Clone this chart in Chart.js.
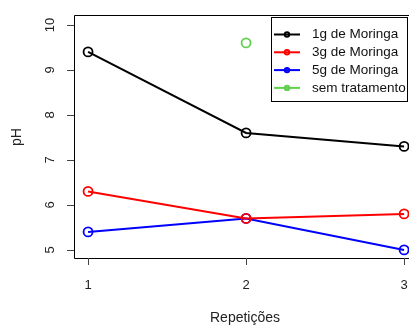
<!DOCTYPE html>
<html><head><meta charset="utf-8">
<script src="https://cdn.jsdelivr.net/npm/chart.js@4"></script>
<style>html,body{margin:0;padding:0;background:#fff;}#wrap{width:409px;height:325px;}</style>
</head><body><div id="wrap"><canvas id="c" width="409" height="325"></canvas></div>
<script>
const repeticoes = [1, 2, 3];
const serie1g = [9.4, 7.6, 7.3];
const serie3g = [6.3, 5.7, 5.8];
const serie5g = [5.4, 5.7, 5.0];
const semTratamento = [null, 9.6, null];
const yTicks = [5, 6, 7, 8, 9, 10];
const xTicks = [1, 2, 3];
const seriesNames = ["1g de Moringa", "3g de Moringa", "5g de Moringa", "sem tratamento"];
const colors = ["#000000", "#FF0000", "#0000FF", "#61D04F"];

const FONT = '13px "Liberation Sans", Arial, sans-serif';
const TITLE_FONT = '14px "Liberation Sans", Arial, sans-serif';
const LEG_FONT = '13.5px "Liberation Sans", Arial, sans-serif';
const toPts = arr => arr.map((v, i) => ({x: repeticoes[i], y: v}));

const rPlot = {
  id: 'rPlot',
  afterDraw(chart) {
    const ctx = chart.ctx, a = chart.chartArea;
    const xs = chart.scales.x, ys = chart.scales.y;
    ctx.save();
    ctx.strokeStyle = '#000'; ctx.lineWidth = 1;
    ctx.beginPath();
    ctx.moveTo(a.right + 5, a.top + 0.5); ctx.lineTo(a.left + 0.5, a.top + 0.5);
    ctx.lineTo(a.left + 0.5, a.bottom + 0.5); ctx.lineTo(a.right + 5, a.bottom + 0.5);
    ctx.stroke();
    ctx.strokeStyle = '#444';
    ctx.fillStyle = '#222';
    ctx.font = FONT;
    ctx.beginPath();
    yTicks.forEach(t => { const y = Math.round(ys.getPixelForValue(t)) + 0.5; ctx.moveTo(a.left, y); ctx.lineTo(a.left - 7, y); });
    ctx.stroke();
    yTicks.forEach(t => {
      const y = ys.getPixelForValue(t);
      ctx.save(); ctx.translate(a.left - 24, y); ctx.rotate(-Math.PI / 2);
      ctx.textAlign = 'center'; ctx.textBaseline = 'middle';
      ctx.fillText(String(t), 0, 0); ctx.restore();
    });
    ctx.beginPath();
    xTicks.forEach(t => { const x = Math.round(xs.getPixelForValue(t)) + 0.5; ctx.moveTo(x, a.bottom); ctx.lineTo(x, a.bottom + 7); });
    ctx.stroke();
    ctx.textAlign = 'center'; ctx.textBaseline = 'middle';
    xTicks.forEach(t => ctx.fillText(String(t), xs.getPixelForValue(t), a.bottom + 27));
    ctx.font = TITLE_FONT;
    ctx.fillText('Repetições', 245, 318);
    ctx.save(); ctx.translate(17, 137); ctx.rotate(-Math.PI / 2); ctx.fillText('pH', 0, 0); ctx.restore();
    // legend
    ctx.font = LEG_FONT;
    ctx.strokeStyle = '#000'; ctx.lineWidth = 1;
    ctx.strokeRect(271.5, 17.5, 136, 84);
    ctx.textAlign = 'left';
    seriesNames.forEach((n, i) => {
      const y = 34.5 + i * 17.8;
      ctx.strokeStyle = colors[i]; ctx.lineWidth = 2;
      ctx.beginPath(); ctx.moveTo(274, y); ctx.lineTo(300, y); ctx.stroke();
      ctx.beginPath(); ctx.arc(287, y, 2.2, 0, Math.PI * 2); ctx.stroke();
      ctx.fillStyle = '#111';
      ctx.fillText(n, 312, y);
    });
    ctx.restore();
  }
};

new Chart(document.getElementById('c'), {
  type: 'line',
  data: {
    datasets: [
      {label: seriesNames[0], data: toPts(serie1g), borderColor: colors[0]},
      {label: seriesNames[1], data: toPts(serie3g), borderColor: colors[1]},
      {label: seriesNames[2], data: toPts(serie5g), borderColor: colors[2]},
      {label: seriesNames[3], data: toPts(semTratamento), borderColor: colors[3], showLine: false}
    ].map(d => Object.assign({
      borderWidth: 2, pointRadius: 4.5, pointBorderWidth: 1.8, pointBackgroundColor: 'rgba(0,0,0,0)',
      pointBorderColor: d.borderColor, tension: 0, clip: false, spanGaps: false
    }, d))
  },
  options: {
    responsive: false, animation: false, devicePixelRatio: 1,
    layout: {autoPadding: false, padding: {left: 74, top: 15, right: 0, bottom: 67}},
    scales: {
      x: {type: 'linear', min: 0.911, max: 3.031, display: false},
      y: {type: 'linear', min: 4.82, max: 10.22, display: false}
    },
    plugins: {legend: {display: false}, tooltip: {enabled: false}}
  },
  plugins: [rPlot]
});
</script></body></html>
